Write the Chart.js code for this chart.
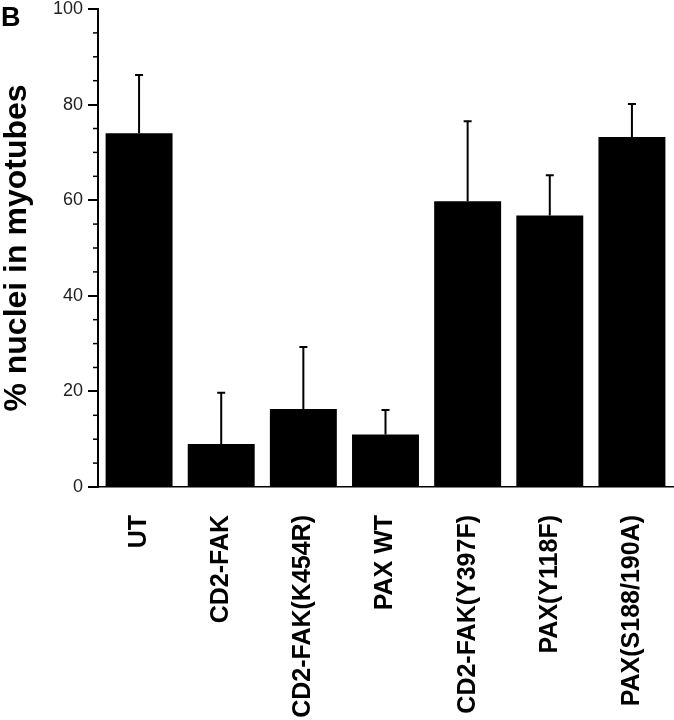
<!DOCTYPE html>
<html>
<head>
<meta charset="utf-8">
<script src="https://cdn.jsdelivr.net/npm/chart.js@4.4.0/dist/chart.umd.min.js"></script>
<style>
  html, body { margin: 0; padding: 0; background: #fff; }
  #wrap { width: 674px; height: 720px; position: relative; }
</style>
</head>
<body>
<div id="wrap"><canvas id="chart" width="674" height="720"></canvas></div>
<script>
const categories = ['UT', 'CD2-FAK', 'CD2-FAK(K454R)', 'PAX WT', 'CD2-FAK(Y397F)', 'PAX(Y118F)', 'PAX(S188/190A)'];
const percentNuclei = [74, 9, 16.3, 11, 59.8, 56.8, 73.2];
const errorUp = [12.2, 10.7, 13, 5.1, 16.7, 8.4, 6.9];
const majorTicks = [0, 20, 40, 60, 80, 100];

// error bars (upper half only) + minor y ticks + panel letter
const extras = {
    id: 'extras',
    afterDatasetsDraw(chart) {
        const ctx = chart.ctx;
        const y = chart.scales.y;
        const meta = chart.getDatasetMeta(0);
        ctx.save();
        ctx.strokeStyle = '#000';
        ctx.lineWidth = 2;
        meta.data.forEach((bar, i) => {
            const top = y.getPixelForValue(percentNuclei[i] + errorUp[i]);
            ctx.beginPath();
            ctx.moveTo(bar.x, bar.y);
            ctx.lineTo(bar.x, top);
            ctx.moveTo(bar.x - 4, top);
            ctx.lineTo(bar.x + 4, top);
            ctx.stroke();
        });
        // minor ticks
        ctx.lineWidth = 1.5;
        y.ticks.forEach(t => {
            if (majorTicks.includes(t.value)) return;
            const py = y.getPixelForValue(t.value);
            ctx.beginPath();
            ctx.moveTo(y.right - 5, py);
            ctx.lineTo(y.right, py);
            ctx.stroke();
        });
        ctx.fillStyle = '#000';
        ctx.font = 'bold 27px "Liberation Sans", Arial, sans-serif';
        ctx.textBaseline = 'alphabetic';
        ctx.fillText('B', 1, 26);
        ctx.restore();
    }
};

new Chart(document.getElementById('chart'), {
    type: 'bar',
    data: {
        labels: categories,
        datasets: [{
            data: percentNuclei,
            backgroundColor: '#000',
            borderWidth: 0,
            barPercentage: 0.815,
            categoryPercentage: 1.0
        }]
    },
    options: {
        responsive: false,
        animation: false,
        layout: { padding: { top: 9, right: 1, left: 0, bottom: 0 } },
        plugins: {
            legend: { display: false },
            tooltip: { enabled: false }
        },
        scales: {
            x: {
                grid: { display: false, drawTicks: false },
                border: { display: true, color: '#000', width: 1.5 },
                ticks: {
                    color: '#000',
                    minRotation: 90,
                    maxRotation: 90,
                    padding: 28,
                    font: { family: '"Liberation Sans", Arial, sans-serif', size: 25, weight: 'bold' }
                },
                afterFit(scale) {
                    scale.height = 233;
                    scale.paddingLeft = 0;
                    scale.paddingRight = 0;
                }
            },
            y: {
                min: 0,
                max: 100,
                grid: {
                    drawOnChartArea: false,
                    tickLength: 10,
                    lineWidth: 2,
                    tickColor: ctx => majorTicks.includes(ctx.tick.value) ? '#000' : 'rgba(0,0,0,0)'
                },
                border: { display: true, color: '#000', width: 2 },
                ticks: {
                    stepSize: 5,
                    autoSkip: false,
                    padding: 5,
                    color: '#222',
                    font: { family: '"Liberation Sans", Arial, sans-serif', size: 18 },
                    callback: v => majorTicks.includes(v) ? v : ''
                },
                title: {
                    display: true,
                    text: '% nuclei in myotubes',
                    color: '#000',
                    padding: 0,
                    font: { family: '"Liberation Sans", Arial, sans-serif', size: 32, weight: 'bold', lineHeight: 1.05 }
                },
                afterFit(scale) {
                    scale.width = 98;
                    scale.paddingTop = 0;
                    scale.paddingBottom = 0;
                }
            }
        }
    },
    plugins: [extras]
});
</script>
</body>
</html>
